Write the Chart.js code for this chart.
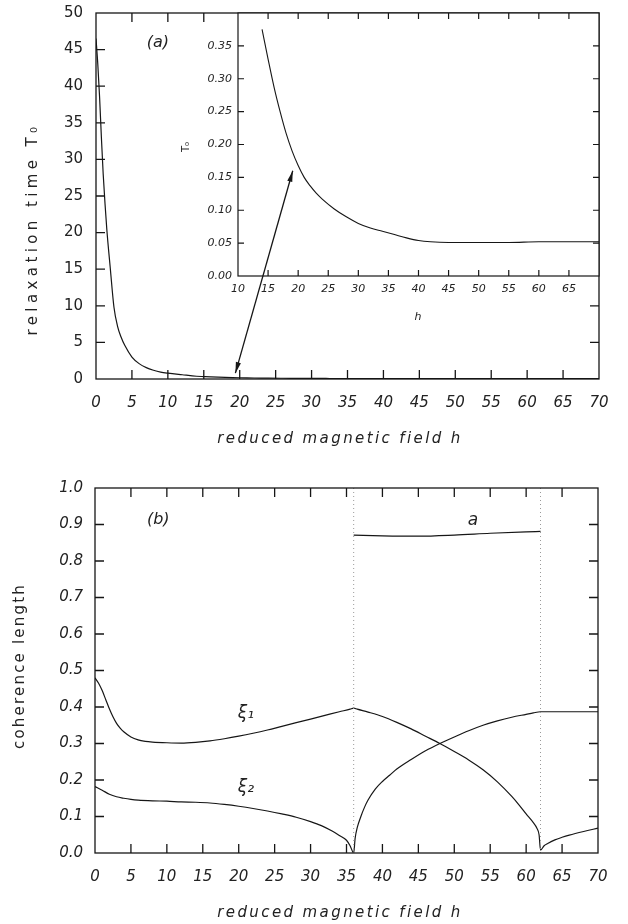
<!DOCTYPE html>
<html><head><meta charset="utf-8">
<script src="https://cdn.jsdelivr.net/npm/chart.js@4.4.1/dist/chart.umd.min.js"></script>
<style>
html,body{margin:0;padding:0;background:#fff;}
#wrap{position:relative;width:628px;height:924px;background:#fff;}
.box{position:absolute;left:0;width:628px;height:462px;}
.box canvas{position:absolute;left:0;top:0;}
</style></head><body>
<div id="wrap">
  <div class="box" style="top:0"><canvas id="cMain" width="628" height="462"></canvas><canvas id="cInset" width="628" height="462"></canvas></div>
  <div class="box" style="top:462px"><canvas id="cB" width="628" height="462"></canvas></div>
</div>
<script>
// ---------- Panel (a): relaxation time T0 vs reduced field h ----------
const hSteep   = [0, 0.25, 0.5, 0.75, 1, 1.25, 1.5, 2, 2.5, 3, 3.5, 4, 5, 6, 7, 8, 9, 10, 12];
const tauSteep = [46.5, 43, 38.5, 33, 28, 24, 20.5, 15, 9.8, 7.2, 5.7, 4.6, 3.0, 2.1, 1.55, 1.2, 0.95, 0.8, 0.58];
const hTail    = [14, 15, 16, 17, 18, 19, 20, 21, 22, 23, 24, 26, 28, 30, 32, 34, 36, 38, 40, 42, 45, 50, 55, 60, 65, 70];
const tauTail  = [0.375, 0.33, 0.287, 0.25, 0.217, 0.19, 0.168, 0.15, 0.137, 0.126, 0.117, 0.102, 0.09, 0.08, 0.073, 0.068, 0.063, 0.058, 0.054, 0.052, 0.051, 0.051, 0.051, 0.052, 0.052, 0.052];
const ticksAx  = [0, 5, 10, 15, 20, 25, 30, 35, 40, 45, 50, 55, 60, 65, 70];
const ticksAy  = [0, 5, 10, 15, 20, 25, 30, 35, 40, 45, 50];
const ticksInsetX = [10, 15, 20, 25, 30, 35, 40, 45, 50, 55, 60, 65, 70];
const ticksInsetY = [0, 0.05, 0.10, 0.15, 0.20, 0.25, 0.30, 0.35, 0.40];
const arrowTail = {h: 19.4, t: 0.8};    // in main-panel units
const arrowHead = {h: 19.1, t: 0.16};   // in inset units

// ---------- Panel (b): coherence lengths ----------
const hXi1 = [0,0.5,1,1.5,2,2.5,3,3.5,4,5,6,7,8,10,12,14,16,18,20,22,24,26,28,30,32,34,35.5,36,36.5,38,40,42,44,46,48,50,52,54,56,58,59,60,61,61.5,61.8,62,62.5,63,64,65,66,68,70];
const xi1  = [0.48,0.465,0.445,0.42,0.395,0.373,0.355,0.342,0.332,0.318,0.31,0.306,0.304,0.302,0.301,0.303,0.307,0.313,0.32,0.328,0.337,0.347,0.357,0.367,0.377,0.387,0.394,0.397,0.394,0.386,0.374,0.358,0.34,0.32,0.30,0.278,0.255,0.228,0.195,0.155,0.132,0.107,0.083,0.068,0.05,0.008,0.02,0.026,0.036,0.043,0.049,0.059,0.068];
const hXi2 = [0,1,2,3,4,5,6,8,10,12,14,16,18,20,22,24,26,28,30,31.5,33,34,35,35.5,36,36.2,36.5,37,37.5,38,39,40,41,42,44,46,48,50,52,54,56,58,60,61,62,66,70];
const xi2  = [0.182,0.172,0.161,0.154,0.15,0.147,0.145,0.143,0.142,0.14,0.139,0.137,0.133,0.128,0.122,0.115,0.107,0.098,0.086,0.075,0.06,0.048,0.035,0.02,0,0.04,0.07,0.1,0.125,0.145,0.175,0.196,0.213,0.23,0.256,0.28,0.30,0.318,0.335,0.35,0.362,0.372,0.38,0.384,0.387,0.387,0.387];
const hA    = [36, 40, 45, 50, 55, 60, 62];
const aVals = [0.871, 0.869, 0.868, 0.871, 0.876, 0.880, 0.881];
const hPhase = [36, 62];
const ticksBx = [0, 5, 10, 15, 20, 25, 30, 35, 40, 45, 50, 55, 60, 65, 70];
const ticksBy = [0, 0.1, 0.2, 0.3, 0.4, 0.5, 0.6, 0.7, 0.8, 0.9, 1.0];

// ---------- helpers ----------
const FONT = "'DejaVu Sans', sans-serif";
const INK = '#161616';
const TXT = '#222';
const pts = (xs, ys) => xs.map((x, i) => ({x, y: ys[i]}));

const framePlugin = {
  id: 'frame',
  beforeDraw(chart, args, o) {
    if (!o.fill) return;
    const a = chart.chartArea, ctx = chart.ctx;
    ctx.save(); ctx.fillStyle = '#fff';
    ctx.fillRect(a.left, a.top, a.right - a.left, a.bottom - a.top);
    ctx.restore();
  },
  afterDatasetsDraw(chart, args, o) {
    const {ctx, chartArea: a, scales: {x, y}} = chart;
    const L = o.tick || 9;
    ctx.save();
    ctx.strokeStyle = INK; ctx.lineWidth = o.lw || 1.3;
    ctx.strokeRect(a.left, a.top, a.right - a.left, a.bottom - a.top);
    ctx.beginPath();
    x.ticks.forEach(t => {
      const p = x.getPixelForValue(t.value);
      if (p <= a.left + 1 || p >= a.right - 1) return;
      ctx.moveTo(p, a.bottom); ctx.lineTo(p, a.bottom - L);
      ctx.moveTo(p, a.top); ctx.lineTo(p, a.top + L);
    });
    y.ticks.forEach(t => {
      const p = y.getPixelForValue(t.value);
      if (p <= a.top + 1 || p >= a.bottom - 1) return;
      ctx.moveTo(a.left, p); ctx.lineTo(a.left + L, p);
      ctx.moveTo(a.right, p); ctx.lineTo(a.right - L, p);
    });
    ctx.stroke();
    ctx.restore();
  }
};

const textPlugin = {
  id: 'texts',
  afterDraw(chart, args, o) {
    const ctx = chart.ctx;
    (o.items || []).forEach(it => {
      ctx.save();
      ctx.font = it.font; ctx.fillStyle = TXT;
      ctx.textAlign = 'center'; ctx.textBaseline = 'middle';
      if ('letterSpacing' in ctx) ctx.letterSpacing = it.ls || '0px';
      let px = it.x, py = it.y;
      if (it.data) { px = chart.scales.x.getPixelForValue(it.x); py = chart.scales.y.getPixelForValue(it.y); }
      ctx.translate(px, py);
      if (it.rot) ctx.rotate(it.rot);
      ctx.fillText(it.text, 0, 0);
      ctx.restore();
    });
  }
};

function drawHead(ctx, xf, yf, xt, yt) {
  const ang = Math.atan2(yt - yf, xt - xf), L = 11, Wd = 2.6;
  ctx.beginPath();
  ctx.moveTo(xt, yt);
  ctx.lineTo(xt - L * Math.cos(ang) + Wd * Math.sin(ang), yt - L * Math.sin(ang) - Wd * Math.cos(ang));
  ctx.lineTo(xt - L * Math.cos(ang) - Wd * Math.sin(ang), yt - L * Math.sin(ang) + Wd * Math.cos(ang));
  ctx.closePath(); ctx.fill();
}

let mainChart = null;
const arrowPlugin = {
  id: 'arrow',
  afterDraw(chart) {
    if (!mainChart) return;
    const ctx = chart.ctx;
    const x1 = mainChart.scales.x.getPixelForValue(arrowTail.h), y1 = mainChart.scales.y.getPixelForValue(arrowTail.t);
    const x2 = chart.scales.x.getPixelForValue(arrowHead.h), y2 = chart.scales.y.getPixelForValue(arrowHead.t);
    ctx.save();
    ctx.strokeStyle = INK; ctx.fillStyle = INK; ctx.lineWidth = 1.3;
    ctx.beginPath(); ctx.moveTo(x1, y1); ctx.lineTo(x2, y2); ctx.stroke();
    drawHead(ctx, x1, y1, x2, y2);
    drawHead(ctx, x2, y2, x1, y1);
    ctx.restore();
  }
};

function axis(opts) {
  return {
    type: 'linear', min: opts.min, max: opts.max,
    grid: {display: false, drawTicks: false}, border: {display: false},
    afterBuildTicks: s => { s.ticks = opts.ticks.map(v => ({value: v})); },
    afterFit: s => {
      if (opts.w !== undefined) s.width = opts.w;
      if (opts.h !== undefined) s.height = opts.h;
      s.paddingTop = 0; s.paddingBottom = 0; s.paddingLeft = 0; s.paddingRight = 0;
    },
    ticks: {padding: opts.pad, autoSkip: false, maxRotation: 0, color: TXT,
      font: {family: FONT, size: opts.size, style: opts.italic ? 'italic' : 'normal', weight: 'normal'},
      callback: opts.fmt}
  };
}

const lineDS = (data, extra) => Object.assign({data, borderColor: INK, borderWidth: 1.2, pointRadius: 0, tension: 0, fill: false}, extra || {});
const smooth = {cubicInterpolationMode: 'monotone'};

// ---------- Main chart (a) ----------
mainChart = new Chart(document.getElementById('cMain'), {
  type: 'line',
  data: {datasets: [lineDS(pts(hSteep.concat(hTail), tauSteep.concat(tauTail)), smooth)]},
  options: {
    responsive: false, animation: false, events: [],
    layout: {padding: {top: 13, right: 29, left: 0, bottom: 0}},
    plugins: {legend: {display: false}, tooltip: {enabled: false},
      frame: {tick: 9},
      texts: {items: [
        {text: '(a)', x: 8.6, y: 45.9, data: true, font: `italic 16px ${FONT}`},
        {text: 'relaxation time T\u2080', x: 33, y: 229, rot: -Math.PI / 2, font: `15px ${FONT}`, ls: '4.4px'},
        {text: 'reduced magnetic field h', x: 340, y: 439, font: `italic 15px ${FONT}`, ls: '2.4px'}
      ]}},
    scales: {
      x: axis({min: 0, max: 70, ticks: ticksAx, h: 83, pad: 15, size: 15, italic: true, fmt: v => String(v)}),
      y: axis({min: 0, max: 50, ticks: ticksAy, w: 96, pad: 13, size: 15, italic: false, fmt: v => String(v)})
    }
  },
  plugins: [framePlugin, textPlugin]
});

// ---------- Inset ----------
new Chart(document.getElementById('cInset'), {
  type: 'line',
  data: {datasets: [lineDS(pts(hTail, tauTail), Object.assign({borderWidth: 1.1}, smooth))]},
  options: {
    responsive: false, animation: false, events: [],
    layout: {padding: {top: 13, right: 29, left: 188, bottom: 0}},
    plugins: {legend: {display: false}, tooltip: {enabled: false},
      frame: {tick: 6, fill: true, lw: 1.2},
      texts: {items: [
        {text: 'h', x: 418, y: 317, font: `italic 11px ${FONT}`},
        {text: 'T\u2080', x: 186, y: 147, rot: -Math.PI / 2, font: `10px ${FONT}`}
      ]}},
    scales: {
      x: axis({min: 10, max: 70, ticks: ticksInsetX, h: 186, pad: 7, size: 11, italic: true, fmt: v => v >= 70 ? '' : String(v)}),
      y: axis({min: 0, max: 0.4, ticks: ticksInsetY, w: 50, pad: 6, size: 11, italic: true, fmt: v => v >= 0.399 ? '' : v.toFixed(2)})
    }
  },
  plugins: [framePlugin, textPlugin, arrowPlugin]
});

// ---------- Panel (b) ----------
const phaseDS = hPhase.map(h => lineDS([{x: h, y: 0}, {x: h, y: 1}], {borderColor: '#9a9a9a', borderWidth: 1, borderDash: [1, 3]}));
new Chart(document.getElementById('cB'), {
  type: 'line',
  data: {datasets: [
    ...phaseDS,
    lineDS(pts(hXi1, xi1), smooth),
    lineDS(pts(hXi2, xi2), smooth),
    lineDS(pts(hA, aVals), smooth)
  ]},
  options: {
    responsive: false, animation: false, events: [],
    layout: {padding: {top: 26, right: 30, left: 0, bottom: 0}},
    plugins: {legend: {display: false}, tooltip: {enabled: false},
      frame: {tick: 9},
      texts: {items: [
        {text: '(b)', x: 8.8, y: 0.912, data: true, font: `italic 16px ${FONT}`},
        {text: 'a', x: 52.6, y: 0.912, data: true, font: `italic 17px ${FONT}`},
        {text: '\u03BE\u2081', x: 21, y: 0.383, data: true, font: `italic 17px ${FONT}`},
        {text: '\u03BE\u2082', x: 21, y: 0.178, data: true, font: `italic 17px ${FONT}`},
        {text: 'coherence length', x: 20, y: 204, rot: -Math.PI / 2, font: `15px ${FONT}`, ls: '2.2px'},
        {text: 'reduced magnetic field h', x: 340, y: 451, font: `italic 15px ${FONT}`, ls: '2.4px'}
      ]}},
    scales: {
      x: axis({min: 0, max: 70, ticks: ticksBx, h: 71, pad: 15, size: 15, italic: true, fmt: v => String(v)}),
      y: axis({min: 0, max: 1, ticks: ticksBy, w: 95, pad: 12, size: 15, italic: true, fmt: v => v.toFixed(1)})
    }
  },
  plugins: [framePlugin, textPlugin]
});
</script>
</body></html>
